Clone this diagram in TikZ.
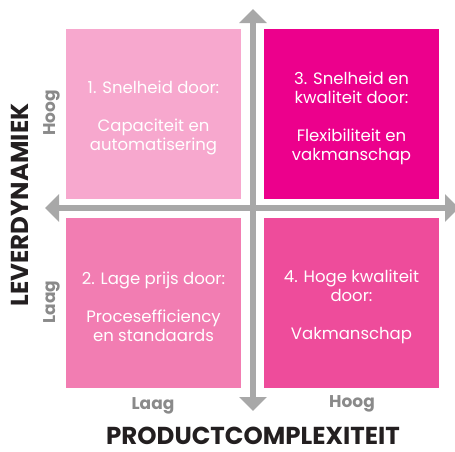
\documentclass[tikz,border=0pt]{standalone}
\usepackage{fontspec}
\setmainfont{Poppins}
\usetikzlibrary{arrows.meta}

\definecolor{pinkA}{HTML}{F7A8CE}
\definecolor{pinkB}{HTML}{EC008C}
\definecolor{pinkC}{HTML}{F27DB2}
\definecolor{pinkD}{HTML}{EE4C9B}
\definecolor{axisgray}{HTML}{A8A8A8}
\definecolor{labelgray}{HTML}{8A8A8A}
\definecolor{titleblack}{HTML}{231F20}

\tikzset{
  quadrant/.style={minimum width=175pt, minimum height=170pt, inner sep=0pt},
  qtext/.style={text=white, align=center, inner sep=0pt, yshift=-4pt,
    font=\fontsize{16.5}{19}\selectfont},
  axis/.style={draw=axisgray, line width=6pt,
    {Triangle[width=27pt,length=14pt]}-{Triangle[width=27pt,length=14pt]}},
  level/.style={text=labelgray, font=\bfseries\fontsize{17}{19}\selectfont, inner sep=0pt},
  axistitle/.style={text=titleblack, font=\bfseries\fontsize{24.5}{26}\selectfont, inner sep=0pt},
}

\begin{document}
\begin{tikzpicture}[x=1pt, y=-1pt]
  \useasboundingbox (0,0) rectangle (455,451);

  % four quadrants
  \node[quadrant, fill=pinkA] (q1) at (153.5,114) {};
  \node[quadrant, fill=pinkB] (q3) at (351.5,114) {};
  \node[quadrant, fill=pinkC] (q2) at (153.5,302.5) {};
  \node[quadrant, fill=pinkD] (q4) at (351.5,302.5) {};

  % quadrant texts
  \node[qtext] (t1) at (q1.center)
    {1. Snelheid door:\\[19pt]Capaciteit en\\automatisering};
  \node[qtext] (t3) at (q3.center)
    {3. Snelheid en\\kwaliteit door:\\[19pt]Flexibiliteit en\\vakmanschap};
  \node[qtext] (t2) at (q2.center)
    {2. Lage prijs door:\\[19pt]Procesefficiency\\en standaards};
  \node[qtext] (t4) at (q4.center)
    {4. Hoge kwaliteit\\door:\\[19pt]Vakmanschap};

  % axes
  \coordinate (ytop) at (253,9);
  \coordinate (ybot) at (253,411);
  \coordinate (xleft) at (45,208);
  \coordinate (xright) at (459,208);
  \draw[axis] (ybot) -- (ytop);
  \draw[axis] (xleft) -- (xright);

  % level labels
  \node[level, rotate=90] (yhigh) at (52,113) {Hoog};
  \node[level, rotate=90] (ylow) at (52,302) {Laag};
  \node[level] (xlow) at (153,406) {Laag};
  \node[level] (xhigh) at (352,404) {Hoog};

  % axis titles
  \node[axistitle, rotate=90] (ytitle) at (20,205) {LEVERDYNAMIEK};
  \node[axistitle] (xtitle) at (253,436) {PRODUCTCOMPLEXITEIT};
\end{tikzpicture}
\end{document}
